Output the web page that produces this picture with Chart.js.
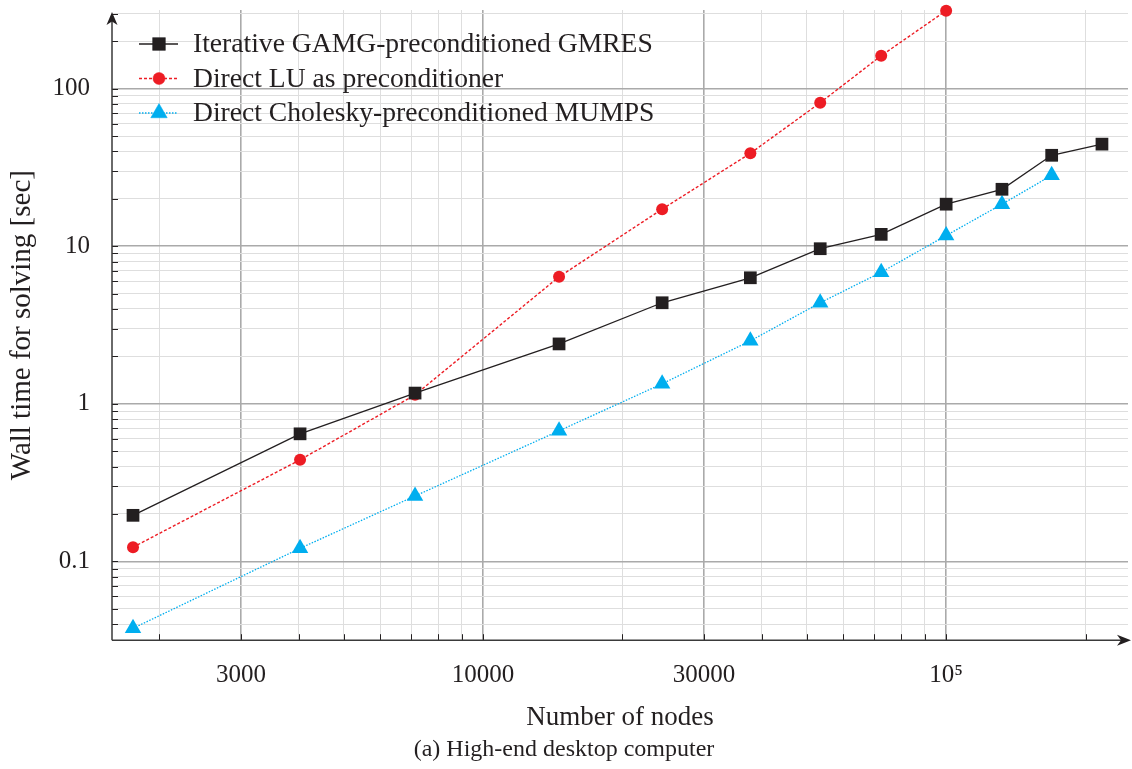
<!DOCTYPE html>
<html>
<head>
<meta charset="utf-8">
<script src="https://cdn.jsdelivr.net/npm/chart.js@4.4.0/dist/chart.umd.min.js"></script>
<style>
html, body { margin: 0; padding: 0; background: #fff; }
#wrap { width: 1132px; height: 769px; position: relative; }
</style>
</head>
<body>
<div id="wrap"><canvas id="solveChart"></canvas></div>
<script>
// data (log-log)
const nodes = [1754, 4025, 7130, 14590, 24360, 37770, 53460, 72400, 100000, 132000, 169000, 217000];
const gamgTimes = [0.196, 0.645, 1.17, 2.40, 4.38, 6.31, 9.65, 11.9, 18.5, 23.0, 37.8, 44.5];
const luTimes = [0.123, 0.441, 1.14, 6.40, 17.2, 38.9, 81.5, 162, 313];
const choleskyTimes = [0.0376, 0.121, 0.26, 0.674, 1.34, 2.51, 4.38, 6.84, 11.7, 18.5, 28.2];
const seriesNames = ['Iterative GAMG-preconditioned GMRES', 'Direct LU as preconditioner', 'Direct Cholesky-preconditioned MUMPS'];

const xGridValues = [2000, 3000, 4000, 5000, 6000, 7000, 8000, 9000, 10000, 20000, 30000, 40000, 50000, 60000, 70000, 80000, 90000, 100000, 200000];
const xMajorValues = [3000, 10000, 30000, 100000];
const xTickLabels = ['3000', '10000', '30000', '10\u2075'];
const yGridValues = [0.04, 0.05, 0.06, 0.07, 0.08, 0.09, 0.1, 0.2, 0.3, 0.4, 0.5, 0.6, 0.7, 0.8, 0.9, 1, 2, 3, 4, 5, 6, 7, 8, 9, 10, 20, 30, 40, 50, 60, 70, 80, 90, 100, 200, 300];
const yMajorValues = [0.1, 1, 10, 100];
const yTickLabels = ['0.1', '1', '10', '100'];

const ink = '#231f20';
const axisGrey = '#3a3a3a';
const majorGrid = '#aaaaaa';
const minorGrid = '#dedede';
const serif = '"Liberation Serif", "DejaVu Serif", serif';

function points(ys) {
    return ys.map((v, i) => ({ x: nodes[i], y: v }));
}

function noEdgePadding(s) {
    s.paddingTop = 0;
    s.paddingBottom = 0;
    s.paddingLeft = 0;
    s.paddingRight = 0;
}

const axisDecor = {
    id: 'axisDecor',
    beforeDatasetsDraw(chart) {
        const { ctx, chartArea, scales } = chart;
        ctx.save();
        ctx.strokeStyle = ink;
        ctx.lineWidth = 1;
        ctx.beginPath();
        scales.x.ticks.forEach(t => {
            const px = Math.round(scales.x.getPixelForValue(t.value)) + 0.5;
            ctx.moveTo(px, chartArea.bottom);
            ctx.lineTo(px, chartArea.bottom - 6);
        });
        scales.y.ticks.forEach(t => {
            const py = Math.round(scales.y.getPixelForValue(t.value)) + 0.5;
            ctx.moveTo(chartArea.left, py);
            ctx.lineTo(chartArea.left + 6, py);
        });
        ctx.stroke();
        ctx.restore();
    },
    afterDraw(chart) {
        const { ctx, chartArea } = chart;
        const l = chartArea.left, b = chartArea.bottom;
        const xTip = chartArea.right + 3, yTip = chartArea.top + 2;
        ctx.save();
        ctx.strokeStyle = axisGrey;
        ctx.fillStyle = ink;
        ctx.lineWidth = 1.5;
        ctx.beginPath();
        ctx.moveTo(l, b);
        ctx.lineTo(xTip - 8, b);
        ctx.moveTo(l, b);
        ctx.lineTo(l, yTip + 8);
        ctx.stroke();
        ctx.beginPath();
        ctx.moveTo(xTip, b);
        ctx.lineTo(xTip - 14, b - 5.5);
        ctx.lineTo(xTip - 10, b);
        ctx.lineTo(xTip - 14, b + 5.5);
        ctx.closePath();
        ctx.fill();
        ctx.beginPath();
        ctx.moveTo(l, yTip);
        ctx.lineTo(l - 5.5, yTip + 13);
        ctx.lineTo(l, yTip + 9.5);
        ctx.lineTo(l + 5.5, yTip + 13);
        ctx.closePath();
        ctx.fill();
        ctx.restore();
    }
};

const insideLegend = {
    id: 'insideLegend',
    afterDatasetsDraw(chart) {
        const { ctx } = chart;
        ctx.save();
        chart.data.datasets.forEach((ds, i) => {
            const yy = 44 + i * 34.5;
            ctx.strokeStyle = ds.borderColor;
            ctx.lineWidth = ds.borderWidth;
            ctx.setLineDash(ds.borderDash || []);
            ctx.beginPath();
            ctx.moveTo(139, yy);
            ctx.lineTo(178, yy);
            ctx.stroke();
            ctx.setLineDash([]);
            ctx.fillStyle = ds.backgroundColor;
            ctx.strokeStyle = ds.backgroundColor;
            ctx.lineWidth = 0.5;
            Chart.helpers.drawPoint(ctx, { pointStyle: ds.pointStyle, radius: ds.pointRadius, rotation: 0, borderWidth: 0.5 }, 159, yy);
            ctx.fillStyle = ink;
            ctx.font = '27.6px ' + serif;
            ctx.textBaseline = 'middle';
            ctx.textAlign = 'left';
            ctx.fillText(ds.label, 193, yy + 1);
        });
        ctx.restore();
    }
};

new Chart(document.getElementById('solveChart'), {
    type: 'line',
    data: {
        datasets: [{
            label: seriesNames[0],
            data: points(gamgTimes),
            borderColor: ink,
            backgroundColor: ink,
            borderWidth: 1.3,
            pointStyle: 'rect',
            pointRadius: 9,
            pointBorderWidth: 0,
            clip: false
        }, {
            label: seriesNames[1],
            data: points(luTimes),
            borderColor: '#ed1c24',
            backgroundColor: '#ed1c24',
            borderWidth: 1.4,
            borderDash: [3, 2],
            pointStyle: 'circle',
            pointRadius: 6,
            pointBorderWidth: 0,
            clip: false
        }, {
            label: seriesNames[2],
            data: points(choleskyTimes),
            borderColor: '#00aeef',
            backgroundColor: '#00aeef',
            borderWidth: 1.3,
            borderDash: [1.5, 1.5],
            pointStyle: 'triangle',
            pointRadius: 9.5,
            pointBorderWidth: 0,
            clip: false
        }]
    },
    plugins: [axisDecor, insideLegend],
    options: {
        responsive: true,
        maintainAspectRatio: false,
        animation: false,
        devicePixelRatio: 1,
        layout: { autoPadding: false, padding: { top: 10, right: 4, left: 0, bottom: 0 } },
        plugins: {
            legend: { display: false },
            tooltip: { enabled: false },
            title: {
                display: true,
                position: 'bottom',
                text: '(a) High-end desktop computer',
                color: ink,
                font: { family: serif, size: 24, weight: 'normal' },
                padding: { top: 1, bottom: 5 }
            }
        },
        scales: {
            x: {
                type: 'logarithmic',
                min: 1580,
                max: 247000,
                afterBuildTicks: s => { s.ticks = xGridValues.map(v => ({ value: v })); },
                afterFit: s => { s.height = 94; noEdgePadding(s); },
                border: { display: false },
                grid: {
                    drawTicks: false,
                    color: c => xMajorValues.includes(c.tick && c.tick.value) ? majorGrid : minorGrid,
                    lineWidth: c => xMajorValues.includes(c.tick && c.tick.value) ? 1.6 : 1
                },
                ticks: {
                    autoSkip: false,
                    maxRotation: 0,
                    padding: 20,
                    color: ink,
                    font: { family: serif, size: 25 },
                    callback: v => {
                        const k = xMajorValues.indexOf(v);
                        return k >= 0 ? xTickLabels[k] : '';
                    }
                },
                title: {
                    display: true,
                    text: 'Number of nodes',
                    color: ink,
                    font: { family: serif, size: 27 },
                    padding: { top: 0, bottom: 0 }
                }
            },
            y: {
                type: 'logarithmic',
                min: 0.0316,
                max: 316,
                afterBuildTicks: s => { s.ticks = yGridValues.map(v => ({ value: v })); },
                afterFit: s => { s.width = 112; noEdgePadding(s); },
                border: { display: false },
                grid: {
                    drawTicks: false,
                    color: c => yMajorValues.includes(c.tick && c.tick.value) ? majorGrid : minorGrid,
                    lineWidth: c => yMajorValues.includes(c.tick && c.tick.value) ? 1.6 : 1
                },
                ticks: {
                    autoSkip: false,
                    padding: 22,
                    color: ink,
                    font: { family: serif, size: 25 },
                    callback: v => {
                        const k = yMajorValues.indexOf(v);
                        return k >= 0 ? yTickLabels[k] : '';
                    }
                },
                title: {
                    display: true,
                    text: 'Wall time for solving [sec]',
                    color: ink,
                    font: { family: serif, size: 29 },
                    padding: { top: 5, bottom: 0 }
                }
            }
        }
    }
});
</script>
</body>
</html>
